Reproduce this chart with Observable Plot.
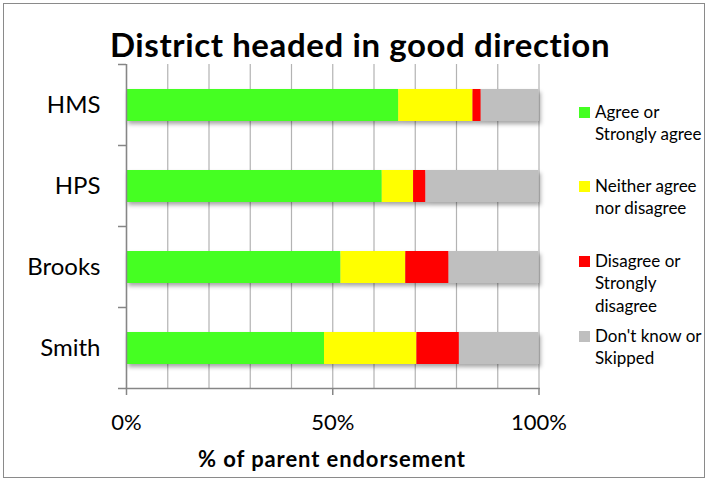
<!DOCTYPE html>
<html>
<head>
<meta charset="utf-8">
<script src="https://cdn.jsdelivr.net/npm/d3@7"></script>
<script src="https://cdn.jsdelivr.net/npm/@observablehq/plot@0.6"></script>
<style>
  html, body { margin: 0; padding: 0; background: #fff; }
  #wrap { position: relative; width: 707px; height: 479px; font-family: Lato, "Open Sans", sans-serif; color: #000; overflow: hidden; }
  #frame { position: absolute; left: 3px; top: 3px; width: 702px; height: 475px; box-sizing: border-box; border: 1.5px solid #8a8a8a; pointer-events: none; }
  #chart { position: absolute; left: 0; top: 0; }
  #title { position: absolute; left: 0; width: 720px; top: 24px; text-align: center; font-weight: 700; font-size: 33px; letter-spacing: 0.6px; line-height: 40px; white-space: nowrap; }
  #xlabel { position: absolute; left: 126px; width: 412px; top: 446px; text-align: center; font-weight: 700; font-size: 22px; letter-spacing: 0.9px; line-height: 26px; white-space: nowrap; }
  .item { position: absolute; left: 579px; font-size: 17px; line-height: 22.5px; }
  .sw { position: absolute; left: 0; top: 6px; width: 11px; height: 11px; }
  .txt { position: absolute; left: 16px; top: 0; white-space: nowrap; }
</style>
</head>
<body>
<div id="wrap">
  <div id="chart"></div>
  <div id="title"></div>
  <div id="xlabel"></div>
  <div id="legend"></div>
  <div id="frame"></div>
</div>
<script>
const schools = ["HMS", "HPS", "Brooks", "Smith"];
const responses = ["Agree or Strongly agree", "Neither agree nor disagree", "Disagree or Strongly disagree", "Don't know or Skipped"];
const legendLines = [["Agree or", "Strongly agree"], ["Neither agree", "nor disagree"], ["Disagree or", "Strongly", "disagree"], ["Don't know or", "Skipped"]];
const colors = ["#44ff22", "#ffff00", "#ff0000", "#bfbfbf"];
const agree    = [66, 62, 52, 48];
const neither  = [18, 7.6, 15.7, 22.4];
const disagree = [2, 3, 10.5, 10.3];
const dontKnow = [14, 27.4, 21.8, 19.3];
const gridTicks = [0, 10, 20, 30, 40, 50, 60, 70, 80, 90, 100];
const xTicks = [0, 50, 100];
const titleText = "District headed in good direction";
const xLabelText = "% of parent endorsement";

const series = [agree, neither, disagree, dontKnow];
const data = [];
schools.forEach((s, i) => {
  responses.forEach((r, j) => data.push({school: s, response: r, value: series[j][i]}));
});

const plot = Plot.plot({
  width: 707,
  height: 479,
  marginLeft: 126,
  marginRight: 168.5,
  marginTop: 64,
  marginBottom: 91,
  style: {fontFamily: "Lato, 'Open Sans', sans-serif", color: "#000", background: "transparent"},
  x: {domain: [0, 100], axis: null},
  y: {domain: schools, paddingInner: 0.605, paddingOuter: 0.3025, axis: null},
  color: {domain: responses, range: colors},
  marks: [
    Plot.ruleX(gridTicks, {stroke: "#b3b3b3", strokeWidth: 1.2}),
    Plot.barX(data, Plot.stackX({x: "value", y: "school", fill: "response", order: responses})),
    Plot.ruleX([0], {stroke: "#868686", strokeWidth: 1.5}),
    Plot.frame({anchor: "bottom", stroke: "#868686", strokeWidth: 1.5}),
    Plot.axisX(xTicks, {tickSize: 7, tickPadding: 19, stroke: "#868686", strokeWidth: 1.5, fontSize: 22, tickFormat: d => d + "%", label: null}),
    Plot.axisY({tickSize: 0, tickPadding: 26, fontSize: 24, label: null})
  ]
});
document.getElementById("chart").appendChild(plot);

// shadow filter for bars
const svg = d3.select(plot);
const defs = svg.insert("defs", ":first-child");
const f = defs.append("filter").attr("id", "shadow").attr("x", "-5%").attr("y", "-30%").attr("width", "115%").attr("height", "170%");
f.append("feDropShadow").attr("dx", 2).attr("dy", 3).attr("stdDeviation", 2).attr("flood-color", "#000").attr("flood-opacity", 0.35);
svg.selectAll("g[aria-label='bar']").attr("filter", "url(#shadow)");

// y-axis boundary ticks from the library's own y scale
const ys = plot.scale("y");
const step = ys.step, bw = ys.bandwidth;
const yBound = schools.map(s => ys.apply(s) - (step - bw) / 2);
yBound.push(yBound[yBound.length - 1] + step);
const xs = plot.scale("x");
const x0 = xs.apply(0);
const tg = svg.append("g");
yBound.forEach(y => {
  tg.append("line").attr("x1", x0 - 8).attr("x2", x0).attr("y1", y).attr("y2", y)
    .attr("stroke", "#868686").attr("stroke-width", 1.5);
});

document.getElementById("title").textContent = titleText;
document.getElementById("xlabel").textContent = xLabelText;

const firstCenters = [112, 186, 261, 336];
const lg = document.getElementById("legend");
legendLines.forEach((lines, i) => {
  const it = document.createElement("div");
  it.className = "item";
  it.style.top = (firstCenters[i] - 11.25) + "px";
  const sw = document.createElement("div");
  sw.className = "sw";
  sw.style.background = colors[i];
  it.appendChild(sw);
  const t = document.createElement("div");
  t.className = "txt";
  t.innerHTML = lines.map(l => l.replace(/&/g, "&amp;")).join("<br>");
  it.appendChild(t);
  lg.appendChild(it);
});
</script>
</body>
</html>
